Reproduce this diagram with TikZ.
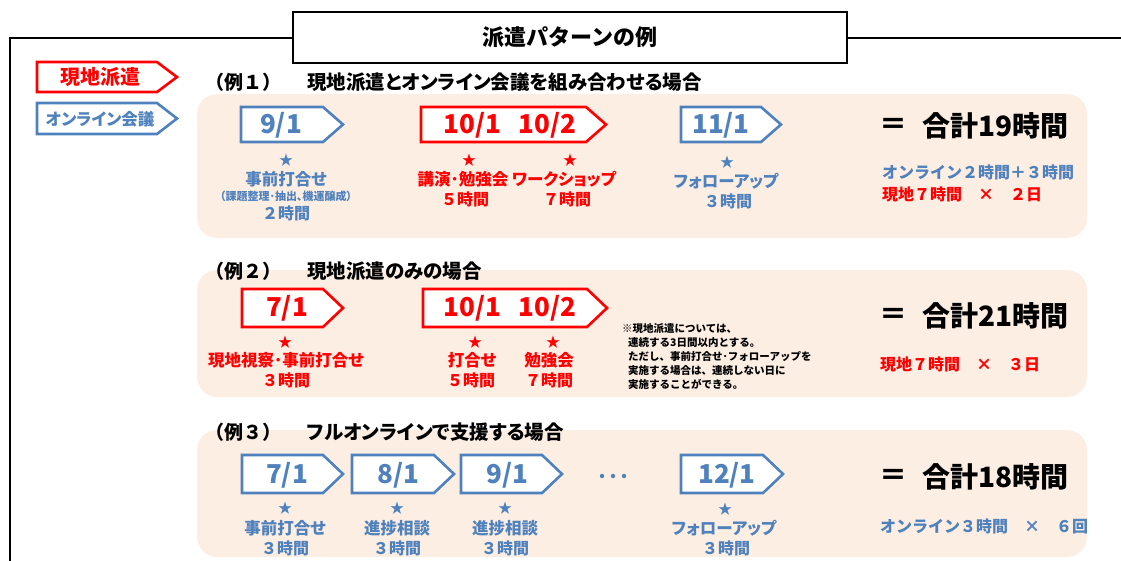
\documentclass[tikz,border=0pt]{standalone}
\usepackage{fontspec}
\setmainfont{Noto Sans CJK JP}
\newfontfamily\pj{Noto Sans CJK JP}[RawFeature=+palt]
\definecolor{myred}{HTML}{FF0000}
\definecolor{myblue}{HTML}{4F81BD}
\definecolor{peach}{HTML}{FDEEE4}
\newcommand\fsz[1]{\fontsize{#1pt}{#1pt}\selectfont}
\newcommand\pentashape[5]{\draw[#5] (#1,#2) -- ({#3-20},#2) -- (#3,{(#2+#4)/2}) -- ({#3-20},#4) -- (#1,#4) -- cycle;}
\begin{document}
\begin{tikzpicture}[x=1pt,y=-1pt,
 frame/.style={line width=2pt, draw=black},
 titlebox/.style={draw=black, line width=2pt, fill=white, minimum width=554pt, minimum height=51pt, font=\bfseries\fsz{22}, inner sep=0},
 panel/.style={fill=peach, rounded corners=20pt},
 rbox/.style={draw=myred, line width=2.6pt, fill=white},
 bbox/.style={draw=myblue, line width=2.6pt, fill=white},
 date/.style={font=\bfseries\fsz{26}, inner sep=0},
 rdate/.style={date, text=myred},
 bdate/.style={date, text=myblue},
 head/.style={font=\bfseries\fsz{19}, anchor=west, inner sep=0},
 headp/.style={font=\pj\bfseries\fsz{19.5}, anchor=west, inner sep=0},
 lbl/.style={font=\pj\bfseries\fsz{16.5}, inner sep=0},
 rlbl/.style={lbl, text=myred},
 blbl/.style={lbl, text=myblue},
 hrs/.style={font=\bfseries\fsz{16}, inner sep=0},
 rhrs/.style={hrs, text=myred},
 bhrs/.style={hrs, text=myblue},
 star/.style={font=\fsz{14}, inner sep=0},
 rstar/.style={star, text=myred},
 bstar/.style={star, text=myblue},
 total/.style={font=\bfseries\fsz{28}, inner sep=0, anchor=west},
 sum/.style={font=\bfseries\fsz{16}, inner sep=0, anchor=west},
 note/.style={font=\bfseries\fontsize{10.5pt}{14pt}\selectfont, inner sep=0, anchor=north west, align=left},
 dot/.style={fill=myblue, draw=none}
]
\useasboundingbox (0,0) rectangle (1121,560);

% frame and title
\node[titlebox] (title) at (570,37.5) {派遣パターンの例};
\coordinate (fTL) at (10,37.5);
\coordinate (fBL) at (10,562);
\coordinate (fR) at (1123,37.5);
\draw[frame] (title.west) -- (fTL) -- (fBL);
\draw[frame] (title.east) -- (fR);

% legend
\pentashape{37}{62}{177}{92}{rbox}
\node[font=\bfseries\fsz{20}, text=myred, inner sep=0] (legR) at (100,77) {現地派遣};
\pentashape{37}{103}{177}{134}{bbox}
\node[font=\pj\bfseries\fsz{16.5}, text=myblue, inner sep=0] (legB) at (100,119) {オンライン会議};

% panels
\fill[panel] (197,94) rectangle (1087,238);
\fill[panel] (197,270) rectangle (1087,397);
\fill[panel] (197,430) rectangle (1087,557);

% ---------- example 1
\node[head] (h1a) at (205,82) {（例１）};
\node[headp] (h1b) at (307,82) {現地派遣とオンライン会議を組み合わせる場合};
\pentashape{241}{107}{343}{142}{bbox}
\node[bdate] (d1a) at (281,125) {9/1};
\pentashape{421}{107}{606}{142}{rbox}
\node[rdate] (d1b) at (510,125) {10/1\hspace{18pt}10/2};
\pentashape{681}{107}{781}{142}{bbox}
\node[bdate] (d1c) at (721,125) {11/1};

\node[bstar] (s1a) at (286,160) {★};
\node[blbl] (l1a) at (286,179) {事前打合せ};
\node[blbl, font=\pj\bfseries\fsz{11}] (l1a2) at (286,196) {（課題整理･抽出、機運醸成）};
\node[bhrs] (t1a) at (286,213) {２時間};

\node[rstar] (s1b) at (469,160) {★};
\node[rlbl] (l1b) at (463,179) {講演･勉強会};
\node[rhrs] (t1b) at (465,199) {５時間};
\node[rstar] (s1c) at (570,160) {★};
\node[rlbl] (l1c) at (564,179) {ワークショップ};
\node[rhrs] (t1c) at (567,199) {７時間};

\node[bstar] (s1d) at (727,162) {★};
\node[blbl] (l1d) at (726,181) {フォローアップ};
\node[bhrs] (t1d) at (728,201) {３時間};

\node[total, anchor=center] (eq1) at (893,126) {＝};
\node[total] (sum1) at (922,126) {合計19時間};
\node[sum, text=myblue] (on1) at (882,172) {オンライン２時間＋３時間};
\node[sum, text=myred] (ge1) at (882,194) {現地７時間　×　２日};

% ---------- example 2
\node[head] (h2a) at (205,271) {（例２）};
\node[headp] (h2b) at (307,271) {現地派遣のみの場合};
\pentashape{242}{289}{343}{327}{rbox}
\node[rdate] (d2a) at (287,308) {7/1};
\pentashape{423}{289}{607}{327}{rbox}
\node[rdate] (d2b) at (510,308) {10/1\hspace{18pt}10/2};

\node[rstar] (s2a) at (285,342) {★};
\node[rlbl] (l2a) at (286,360) {現地視察･事前打合せ};
\node[rhrs] (t2a) at (286,380) {３時間};
\node[rstar] (s2b) at (475,342) {★};
\node[rlbl] (l2b) at (472,360) {打合せ};
\node[rhrs] (t2b) at (471,380) {５時間};
\node[rstar] (s2c) at (553,342) {★};
\node[rlbl] (l2c) at (549,360) {勉強会};
\node[rhrs] (t2c) at (549,380) {７時間};

\node[note] (note) at (622,323) {※現地派遣については、\\
\hspace*{6pt}連続する3日間以内とする。\\
\hspace*{6pt}ただし、事前打合せ･フォローアップを\\
\hspace*{6pt}実施する場合は、連続しない日に\\
\hspace*{6pt}実施することができる。};

\node[total, anchor=center] (eq2) at (893,316) {＝};
\node[total] (sum2) at (922,316) {合計21時間};
\node[sum, text=myred] (ge2) at (880,364) {現地７時間　×　３日};

% ---------- example 3
\node[head] (h3a) at (205,432) {（例３）};
\node[headp] (h3b) at (307,432) {フルオンラインで支援する場合};
\pentashape{242}{455}{343}{493}{bbox}
\node[bdate] (d3a) at (287,475) {7/1};
\pentashape{352}{455}{454}{493}{bbox}
\node[bdate] (d3b) at (398,475) {8/1};
\pentashape{461}{455}{562}{493}{bbox}
\node[bdate] (d3c) at (507,475) {9/1};
\fill[dot] (602,476) circle (2.2);
\fill[dot] (613,476) circle (2.2);
\fill[dot] (624,476) circle (2.2);
\pentashape{681}{455}{783}{493}{bbox}
\node[bdate] (d3d) at (727,475) {12/1};

\node[bstar] (s3a) at (285,508) {★};
\node[blbl] (l3a) at (285,528) {事前打合せ};
\node[bhrs] (t3a) at (285,548) {３時間};
\node[bstar] (s3b) at (397,508) {★};
\node[blbl] (l3b) at (397,528) {進捗相談};
\node[bhrs] (t3b) at (397,548) {３時間};
\node[bstar] (s3c) at (505,508) {★};
\node[blbl] (l3c) at (505,528) {進捗相談};
\node[bhrs] (t3c) at (505,548) {３時間};
\node[bstar] (s3d) at (725,509) {★};
\node[blbl] (l3d) at (724,528) {フォローアップ};
\node[bhrs] (t3d) at (726,548) {３時間};

\node[total, anchor=center] (eq3) at (893,477) {＝};
\node[total] (sum3) at (922,477) {合計18時間};
\node[sum, text=myblue] (on3) at (880,526) {オンライン３時間　×　６回};
\end{tikzpicture}
\end{document}
